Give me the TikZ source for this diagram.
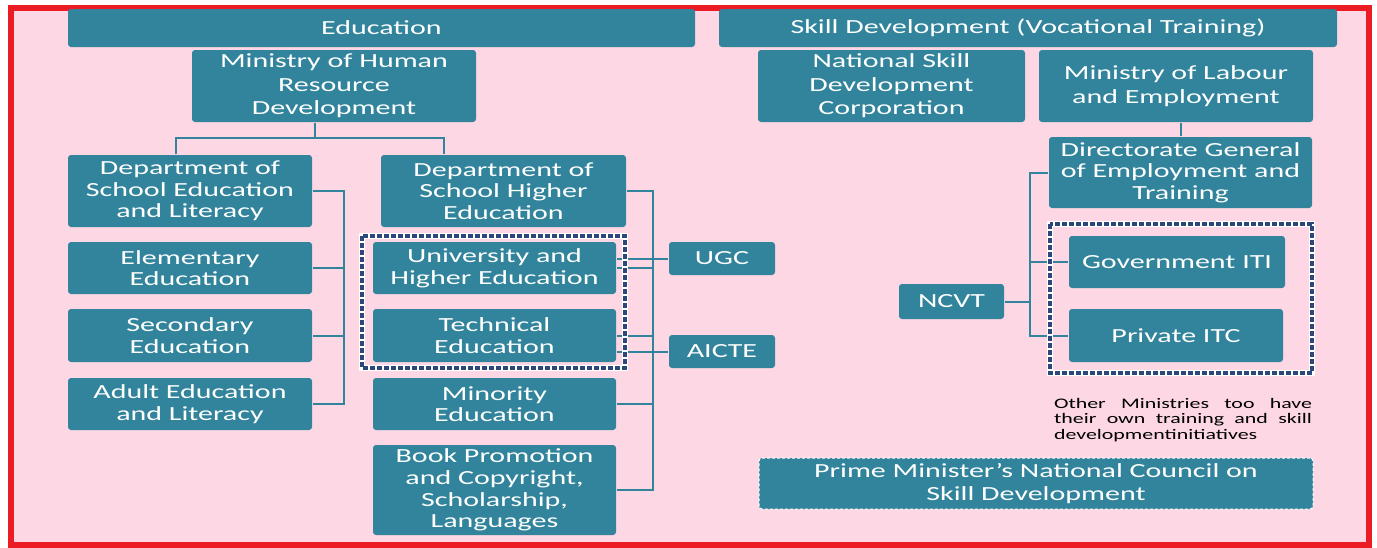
\documentclass[tikz,border=0pt]{standalone}
\usepackage{fontspec}
\setmainfont{Carlito}[FakeStretch=1.5]
\definecolor{tealbox}{RGB}{49,132,155}
\definecolor{pinkbg}{RGB}{253,216,228}
\definecolor{frameRed}{RGB}{236,28,36}
\definecolor{navydash}{RGB}{44,72,122}

\tikzset{every picture/.style={line width=0.75pt}}
\tikzset{
  box/.style 2 args={fill=tealbox, text=white, rounded corners=1.5pt, align=center, inner sep=0pt,
    minimum width=#1*0.5pt, minimum height=#2*0.5pt, font=\fontsize{10}{10.8}\selectfont},
  wide/.style={font=\fontsize{10}{11.7}\selectfont},
  link/.style={draw=tealbox, line width=1pt},
  grpback/.style={draw=white, line width=3pt},
  grp/.style={draw=navydash, line width=1.9pt, dash pattern=on 2.4pt off 1.1pt},
  pmdash/.style={draw=white, line width=0.5pt, dash pattern=on 1.5pt off 1pt},
  note/.style={inner sep=0pt, text width=129pt, align=justify, font=\fontsize{7.3}{7.9}\selectfont}
}

\begin{document}
\begin{tikzpicture}[x=0.5pt,y=0.5pt,yscale=-1,xscale=1]
\useasboundingbox (0,0) rectangle (1377,547);
%page and red frame
\fill[white] (0,0) rectangle (1377,547);
\draw[draw=frameRed, fill=pinkbg, line width=3pt] (11,7.5) rectangle (1369,544.5);

%headers
\node[box={627}{38}] (edu) at (381.5,28) {Education};
\node[box={618}{38}] (skill) at (1028,28) {Skill Development (Vocational Training)};

%education side
\node[box={284}{72}, wide] (mhrd) at (334,86) {Ministry of Human\\Resource\\Development};
\node[box={244}{72}] (dsel) at (190,191) {Department of\\School Education\\and Literacy};
\node[box={245}{72}] (dshe) at (503.5,191) {Department of\\School Higher\\Education};
\node[box={244}{52}] (elem) at (190,268) {Elementary\\Education};
\node[box={244}{53}] (sec) at (190,335.5) {Secondary\\Education};
\node[box={244}{52}] (adult) at (190,404) {Adult Education\\and Literacy};
\node[box={243}{52}] (uhe) at (494.5,268) {University and\\Higher Education};
\node[box={243}{53}] (tech) at (494.5,335.5) {Technical\\Education};
\node[box={243}{52}] (minor) at (494.5,404) {Minority\\Education};
\node[box={243}{90}] (book) at (494.5,490) {Book Promotion\\and Copyright,\\Scholarship,\\Languages};
\node[box={106}{33}] (ugc) at (722,258.5) {UGC};
\node[box={106}{33}] (aicte) at (722,351.5) {AICTE};

%skill side
\node[box={267}{72}, wide] (nsdc) at (891.5,86) {National Skill\\Development\\Corporation};
\node[box={274}{72}, wide] (mole) at (1176,86) {Ministry of Labour\\and Employment};
\node[box={263}{71}] (dget) at (1180.5,172.5) {Directorate General\\of Employment and\\Training};
\node[box={216}{52}] (govt) at (1177,262) {Government ITI};
\node[box={214}{53}] (priv) at (1176,335.5) {Private ITC};
\node[box={105}{35}] (ncvt) at (951.5,301.5) {NCVT};
\node[note] (other) at (1183,420) {\hyphenpenalty=10000 Other Ministries too have\linebreak their own training and skill\linebreak developmentinitiatives};
\node[box={554}{51}, wide, pmdash] (pmnc) at (1036,483.5) {Prime Minister’s National Council on\\Skill Development};

%bus lines
\coordinate (mj) at (315,138);
\coordinate (lt) at (176,0);
\coordinate (rt) at (444,0);
\coordinate (lbus) at (344,0);
\coordinate (rbus) at (653,0);
\coordinate (sbus) at (1030,0);

\draw[link] (mj |- mhrd.south) -- (mj);
\draw[link] (lt |- dsel.north) |- (mj) -| (rt |- dshe.north);
\draw[link] (dsel.east) -| (lbus |- adult.east) -- (adult.east);
\foreach \n in {elem,sec} {\draw[link] (\n.east) -- (lbus |- \n.east);}
\draw[link] (dshe.east) -| (rbus |- book.east) -- (book.east);
\foreach \n in {uhe,tech,minor} {\draw[link] (\n.east) -- (rbus |- \n.east);}
\draw[link] (uhe.east |- ugc.west) -- (ugc.west);
\draw[link] (tech.east |- aicte.west) -- (aicte.west);

\draw[link] (dget.north) -- (dget.north |- mole.south);
\draw[link] (dget.west) -| (sbus |- priv.west) -- (priv.west);
\draw[link] (sbus |- govt.west) -- (govt.west);
\draw[link] (ncvt.east) -- (sbus |- ncvt.east);

%dashed groups
\draw[grpback] (362,236) rectangle (625,368);
\draw[grp] (362,236) rectangle (625,368);
\draw[grpback] (1050,224) rectangle (1312,373);
\draw[grp] (1050,224) rectangle (1312,373);

\end{tikzpicture}
\end{document}
